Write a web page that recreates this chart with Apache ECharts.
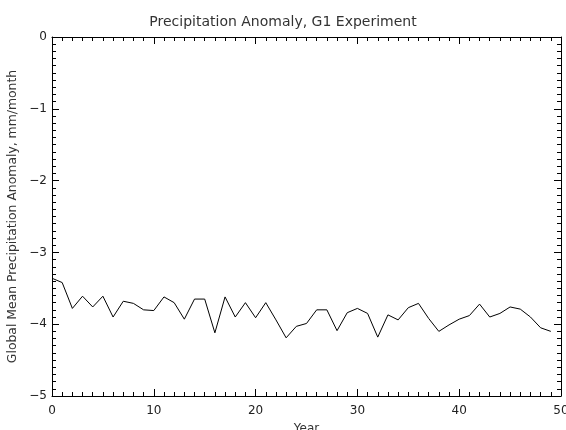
<!DOCTYPE html>
<html>
<head>
<meta charset="utf-8">
<script src="https://cdn.jsdelivr.net/npm/echarts@6/dist/echarts.min.js"></script>
<style>html,body{margin:0;padding:0;background:#fff;}#c{width:566px;height:430px;}</style>
</head>
<body>
<div id="c"></div>
<script>
var years = [];
for (var i = 0; i < 50; i++) years.push(i);
var anomaly = [
  -3.36, -3.42, -3.78, -3.61, -3.76, -3.61, -3.90, -3.68, -3.71, -3.80,
  -3.81, -3.62, -3.70, -3.93, -3.65, -3.65, -4.12, -3.62, -3.90, -3.70,
  -3.91, -3.70, -3.94, -4.19, -4.03, -3.99, -3.80, -3.80, -4.09, -3.84,
  -3.78, -3.85, -4.18, -3.87, -3.94, -3.77, -3.71, -3.92, -4.10, -4.01,
  -3.93, -3.88, -3.72, -3.90, -3.85, -3.76, -3.79, -3.90, -4.05, -4.10
];
var titleText = 'Precipitation Anomaly, G1 Experiment';
var xName = 'Year';
var yName = 'Global Mean Precipitation Anomaly, mm/month';

var font = 'DejaVu Sans';
var ink = '#000';
function axisCommon(extra) {
  var o = {
    axisLine: {show: true, onZero: false, lineStyle: {color: ink, width: 1}},
    axisTick: {show: true, inside: true, length: 7, lineStyle: {color: ink, width: 1}},
    minorTick: {show: true, splitNumber: 10, length: 4, lineStyle: {color: ink, width: 1}},
    splitLine: {show: false},
    minorSplitLine: {show: false}
  };
  for (var k in extra) o[k] = extra[k];
  return o;
}
var chart = echarts.init(document.getElementById('c'), null, {renderer: 'canvas'});
chart.setOption({
  backgroundColor: '#fff',
  animation: false,
  title: {
    text: titleText, left: 'center', top: 10,
    textStyle: {fontFamily: font, fontSize: 14, fontWeight: 'normal', color: '#333'}
  },
  grid: {left: 52, right: 5, top: 37, bottom: 34, containLabel: false, outerBoundsMode: 'none'},
  xAxis: [
    axisCommon({
      type: 'value', min: 0, max: 50, interval: 10, position: 'bottom',
      name: xName, nameLocation: 'middle', nameGap: 27,
      nameTextStyle: {fontFamily: font, fontSize: 12, color: '#333'},
      axisLabel: {margin: 9, fontFamily: font, fontSize: 12, color: '#222'}
    }),
    axisCommon({
      type: 'value', min: 0, max: 50, interval: 10, position: 'top',
      axisLabel: {show: false}
    })
  ],
  yAxis: [
    axisCommon({
      type: 'value', min: -5, max: 0, interval: 1, position: 'left',
      name: yName, nameLocation: 'middle', nameGap: 26, nameRotate: 90,
      nameTextStyle: {fontFamily: font, fontSize: 12.4, color: '#333'},
      axisLabel: {margin: 5, fontFamily: font, fontSize: 12, color: '#222',
        formatter: function (v) { return String(v).replace('-', '\u2212'); }}
    }),
    axisCommon({
      type: 'value', min: -5, max: 0, interval: 1, position: 'right',
      axisLabel: {show: false}
    })
  ],
  series: [{
    type: 'line',
    data: years.map(function (y, i) { return [y, anomaly[i]]; }),
    showSymbol: false,
    symbol: 'none',
    lineStyle: {color: ink, width: 1},
    xAxisIndex: 0, yAxisIndex: 0
  }]
});
</script>
</body>
</html>
